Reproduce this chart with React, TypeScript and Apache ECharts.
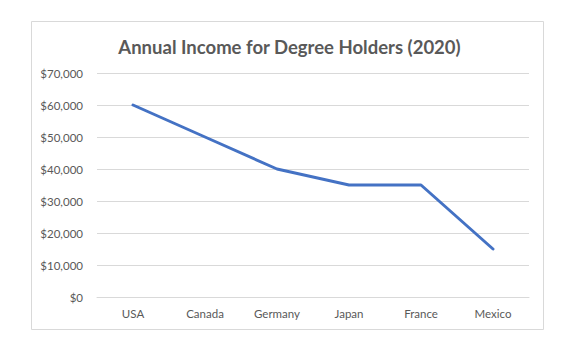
import React, { useEffect, useRef } from "react";
import * as echarts from "echarts";

const categories = ["USA", "Canada", "Germany", "Japan", "France", "Mexico"];
const incomes = [60000, 50000, 40000, 35000, 35000, 15000];
const titleText = "Annual Income for Degree Holders (2020)";

export default function App() {
  const ref = useRef<HTMLDivElement>(null);
  useEffect(() => {
    if (!ref.current) return;
    const chart = echarts.init(ref.current, null, { renderer: "svg" });
    chart.setOption({
      animation: false,
      backgroundColor: "#ffffff",
      title: {
        text: titleText,
        left: "center",
        top: 32,
        textStyle: { fontFamily: "Lato", fontSize: 18.5, fontWeight: "bold", color: "#595959" },
      },
      graphic: [
        {
          type: "rect",
          shape: { x: 31.5, y: 21.5, width: 512, height: 308 },
          style: { fill: "none", stroke: "#d9d9d9", lineWidth: 1 },
          silent: true,
        },
      ],
      grid: { left: 97, right: 50, top: 73, bottom: 55, containLabel: false },
      xAxis: {
        type: "category",
        data: categories,
        boundaryGap: true,
        axisLine: { show: true, lineStyle: { color: "#d9d9d9", width: 1 } },
        axisTick: { show: false },
        axisLabel: { color: "#595959", fontFamily: "Lato", fontSize: 11.5, margin: 10 },
      },
      yAxis: {
        type: "value",
        min: 0,
        max: 70000,
        interval: 10000,
        axisLine: { show: false },
        axisTick: { show: false },
        splitLine: { lineStyle: { color: "#d9d9d9", width: 1 } },
        axisLabel: {
          color: "#595959",
          fontFamily: "Lato",
          fontSize: 11.5,
          margin: 14,
          formatter: (v: number) => "$" + v.toLocaleString("en-US"),
        },
      },
      series: [
        {
          type: "line",
          data: incomes,
          showSymbol: false,
          symbol: "none",
          lineStyle: { color: "#4472C4", width: 3, cap: "round", join: "round" },
        },
      ],
    });
    return () => chart.dispose();
  }, []);
  return (
    <div style={{ position: "absolute", left: 0, top: 0, width: 579, height: 352 }}>
      <div ref={ref} style={{ width: 579, height: 352 }} />
    </div>
  );
}
